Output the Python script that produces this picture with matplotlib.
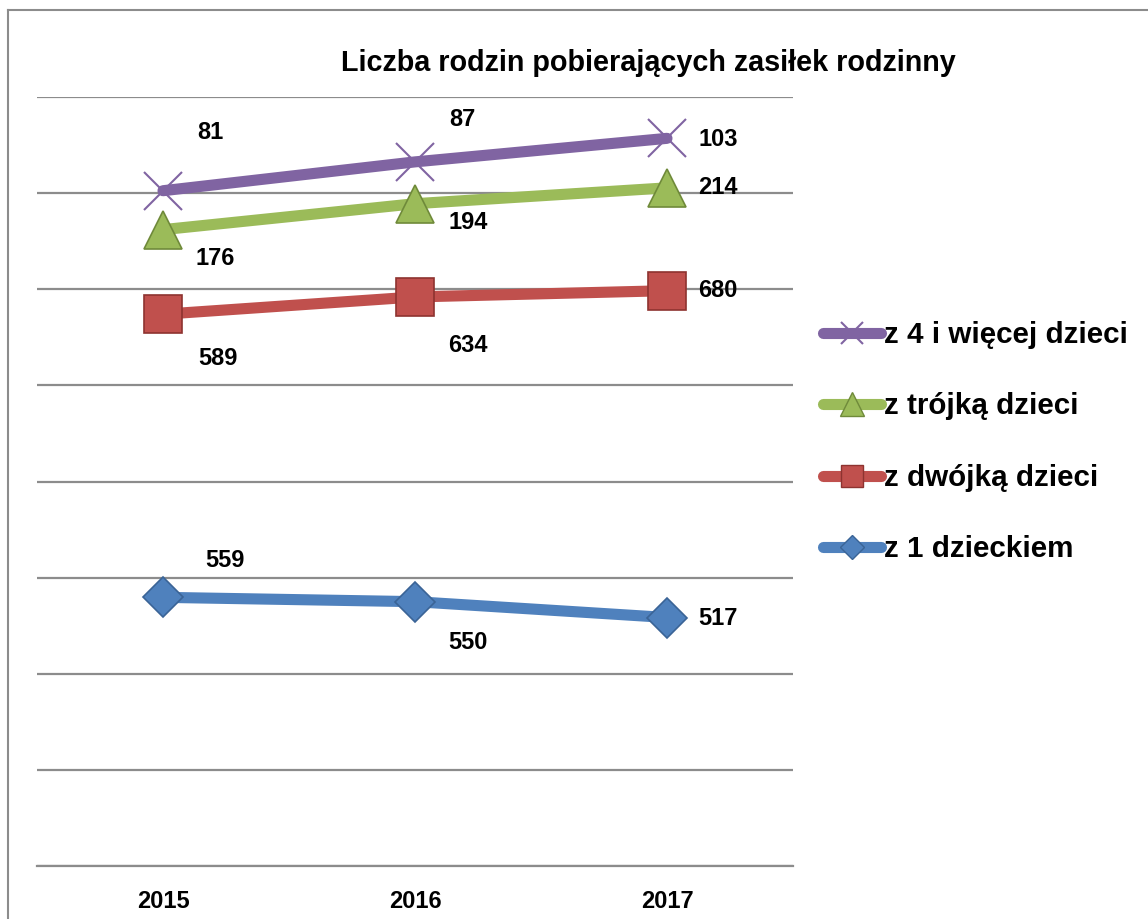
import matplotlib
matplotlib.use("Agg")
import matplotlib.pyplot as plt
import numpy as np
from matplotlib.lines import Line2D

years = ["2015", "2016", "2017"]
series_names = ["z 1 dzieckiem", "z dwójką dzieci", "z trójką dzieci", "z 4 i więcej dzieci"]
one_child = [559, 550, 517]
two_children = [589, 634, 680]
three_children = [176, 194, 214]
four_plus = [81, 87, 103]

colors = ["#4F81BD", "#C0504D", "#9BBB59", "#8064A2"]
edges = ["#3A6496", "#8E3330", "#6F8A3A", "#8064A2"]
markers = ["D", "s", "^", "x"]
msizes = [20, 27, 28, 27]

# label offsets in pixels per series per point
offsets = [
    [(62, 37), (53, -41), (51, -1)],
    [(55, -44), (53, -49), (51, 0)],
    [(52, -29), (53, -19), (51, 0)],
    [(47, 58), (47, 42), (51, -1)],
]

W, H = 1148, 919
fig = plt.figure(figsize=(W / 100, H / 100), dpi=100)
plt.rcParams['font.family'] = ['Liberation Sans', 'DejaVu Sans']

ax = fig.add_axes([37 / W, 1 - 866 / H, (793 - 37) / W, (866 - 97) / H])
data = np.array([one_child, two_children, three_children, four_plus])
cum = np.cumsum(data, axis=0)
x = np.arange(len(years))

for i in range(4):
    mew = 1.5 if markers[i] == "x" else 1.2
    ax.plot(x, cum[i], color=colors[i], lw=8, solid_capstyle="round",
            marker=markers[i], markersize=msizes[i], markerfacecolor=colors[i],
            markeredgecolor=edges[i], markeredgewidth=mew, zorder=3 + i)
    for j in range(len(years)):
        ax.annotate(str(data[i, j]), (x[j], cum[i, j]), xytext=offsets[i][j],
                    textcoords="offset pixels", ha="center", va="center",
                    fontsize=17, fontweight="bold", color="black", zorder=10)

ax.set_xlim(-0.5, 2.5)
ax.set_ylim(0, 1600)
ax.set_yticks(np.arange(0, 1601, 200))
ax.yaxis.grid(True, color="#8C8C8C", lw=1.6)
ax.set_axisbelow(True)
ax.tick_params(axis="y", left=False, labelleft=False)
ax.tick_params(axis="x", bottom=False, pad=14)
ax.set_xticks(x)
ax.set_xticklabels(years, fontsize=17, fontweight="bold")
for s in ["top", "right", "left"]:
    ax.spines[s].set_visible(False)
ax.spines["bottom"].set_color("#8C8C8C")
ax.spines["bottom"].set_linewidth(1.6)
ax.patch.set_alpha(0)

fig.text(648 / W, 1 - 63 / H, "Liczba rodzin pobierających zasiłek rodzinny",
         ha="center", va="center", fontsize=20.7, fontweight="bold")

handles = []
for i in [3, 2, 1, 0]:
    mew = 1.5 if markers[i] == "x" else 1.0
    handles.append(Line2D([0], [0], color=colors[i], lw=8, solid_capstyle="round",
                          marker=markers[i], markersize=msizes[i] * 0.6,
                          markerfacecolor=colors[i], markeredgecolor=edges[i],
                          markeredgewidth=mew))
labels = [series_names[i] for i in [3, 2, 1, 0]]
leg = fig.legend(handles, labels, loc="upper left", bbox_to_anchor=(823 / W, 1 - 321 / H),
                 frameon=False, prop={"size": 21.3, "weight": "bold"},
                 handlelength=1.95, handletextpad=0.1, labelspacing=1.47,
                 borderaxespad=0, borderpad=0)

# outer frame (left and top edges visible)
fig.add_artist(Line2D([8 / W, 8 / W], [0, 1 - 10 / H], transform=fig.transFigure,
                      color="#8C8C8C", lw=1.5))
fig.add_artist(Line2D([8 / W, 1], [1 - 10 / H, 1 - 10 / H], transform=fig.transFigure,
                      color="#8C8C8C", lw=1.5))

fig.savefig("out.png", dpi=100)
